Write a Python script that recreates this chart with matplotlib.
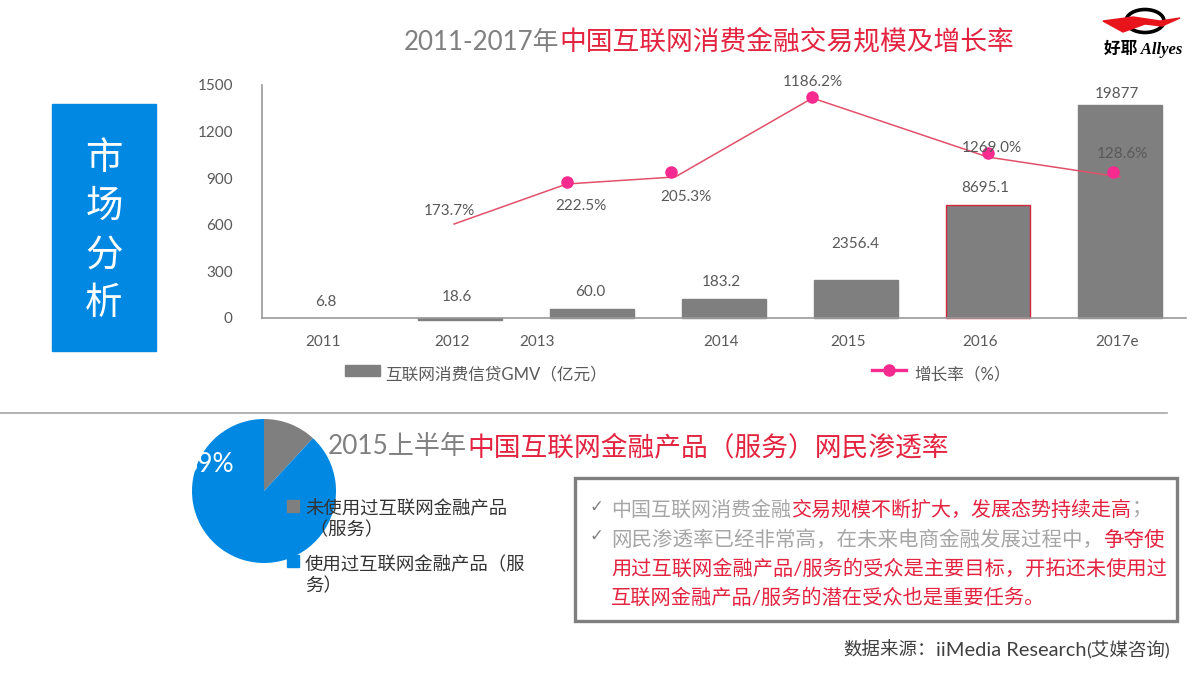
import matplotlib
matplotlib.use("Agg")
import matplotlib.pyplot as plt
from matplotlib.patches import Rectangle, Ellipse, Polygon

FONT = ['Lato', 'Noto Sans CJK SC', 'DejaVu Sans']
plt.rcParams['font.family'] = FONT

# ---- data ----
years = ['2011', '2012', '2013', '2014', '2015', '2016', '2017e']
gmv_labels = ['6.8', '18.6', '60.0', '183.2', '2356.4', '8695.1', '19877']
bar_heights = [0, -12, 58, 122, 245, 727, 1371]
y_ticks = [0, 300, 600, 900, 1200, 1500]
growth_labels = ['173.7%', '222.5%', '205.3%', '1186.2%', '1269.0%', '128.6%']
line_x = [0.955, 1.81, 2.63, 3.67, 5.0, 6.0]
line_y = [605, 863, 908, 1416, 1036, 908]
marker_x = [1.81, 2.60, 3.67, 5.0, 5.95]
marker_y = [876, 940, 1423, 1062, 940]
pie_values = [11.9, 88.1]
pie_names = ['未使用过互联网金融产品\n （服务）', '使用过互联网金融产品（服\n务）']

# ---- styles and positions ----
GRAY_T, TXT, RED = '#808080', '#595959', '#e3233f'
BAR, BLUE, PINK, LINE = '#7f7f7f', '#0088e2', '#f72b8f', '#e2506a'
tick_pos = [-0.04, 0.94, 1.58, 2.98, 3.94, 4.94, 5.98]
gmv_pos = [(326, 302), (457, 297), (590, 292), (721, 282), (855, 244), (985, 188), (1117, 94)]
growth_pos = [(449, 211), (581, 206), (686, 197), (813, 82), (992, 148), (1122, 154)]

W, H = 1200, 675
fig = plt.figure(figsize=(12, 6.75), dpi=100, facecolor='white')

def box(l, t, r, b):
    return [l / W, 1 - b / H, (r - l) / W, (b - t) / H]

# bar + line chart
ax = fig.add_axes(box(262, 85, 1186, 318))
edges = ['none', BAR, BAR, BAR, BAR, '#d2293f', BAR]
ax.bar(range(7), bar_heights, width=0.636, color=BAR, zorder=2, edgecolor=edges, linewidth=1)
ax.plot(line_x, line_y, color=LINE, lw=1.1, zorder=3)
ax.plot(marker_x, marker_y, ls='none', marker='o', ms=8, color=PINK, zorder=4)
ax.set_xlim(-0.5, 6.5)
ax.set_ylim(0, 1500)
ax.set_yticks(y_ticks)
ax.set_xticks(tick_pos, years)
ax.tick_params(axis='y', length=0, pad=21, labelsize=11, labelcolor=TXT)
ax.tick_params(axis='x', length=0, pad=12, labelsize=11, labelcolor=TXT)
for s in ('top', 'right'):
    ax.spines[s].set_visible(False)
for s in ('left', 'bottom'):
    ax.spines[s].set_color('#999999')
    ax.spines[s].set_linewidth(1.2)
for lab in ax.patches:
    lab.set_clip_on(False)

# pie chart
pa = fig.add_axes(box(192, 419, 336, 563))
pa.pie(pie_values, colors=[BAR, BLUE], startangle=90, counterclock=False, radius=1)
pa.set_xlim(-1, 1)
pa.set_ylim(-1, 1)

# overlay in pixel coordinates
ov = fig.add_axes([0, 0, 1, 1], zorder=10)
ov.set_xlim(0, W)
ov.set_ylim(H, 0)
ov.axis('off')
ov.patch.set_alpha(0)

def T(x, y, s, size=11, color=TXT, ha='center', **kw):
    return ov.text(x, y, s, fontsize=size, color=color, ha=ha, va='center', **kw)

def runs(x, y, parts, size, **kw):
    r = fig.canvas.get_renderer()
    inv = ov.transData.inverted()
    for part in parts:
        s, c = part[:2]
        sz = part[2] if len(part) > 2 else size
        t = T(x, y, s, size=sz, color=c, ha='left', **kw)
        x = inv.transform((t.get_window_extent(r).x1, 0))[0]

for s, (x, y) in zip(gmv_labels, gmv_pos):
    T(x, y, s)
for s, (x, y) in zip(growth_labels, growth_pos):
    T(x, y, s)

# titles
runs(404, 42, [('2011-2017年', GRAY_T, 18.6), ('中国互联网消费金融交易规模及增长率', RED)], 19.25)
runs(328, 447, [('2015上半年', GRAY_T, 18.8), ('中国互联网金融产品（服务）网民渗透率', RED)], 19.25)

# left tag
ov.add_patch(Rectangle((52, 104), 104, 247, color=BLUE))
for ch, y in zip('市场分析', [158, 206, 255, 303]):
    T(104, y, ch, size=27, color='white')

# chart legends
ov.add_patch(Rectangle((345, 365), 35, 11, color=BAR))
T(385, 374, '互联网消费信贷GMV（亿元）', size=12, ha='left')
ov.plot([872, 906], [370, 370], color=PINK, lw=2.4)
ov.plot([889], [370], marker='o', ms=8, color=PINK)
T(914, 374, '增长率（%）', size=12, ha='left')

# separator
ov.plot([0, 1167], [413, 413], color='#a6a6a6', lw=1.2)

# pie texts
T(234, 465, '89%', size=19, color='white', ha='right')
ov.add_patch(Rectangle((287, 500), 12, 12, color=BAR))
ov.add_patch(Rectangle((287, 555), 12, 12, color=BLUE))
T(305, 519, pie_names[0], size=13.25, color='#333333', ha='left', linespacing=1.22)
T(305, 575, pie_names[1], size=13.25, color='#333333', ha='left', linespacing=1.22)

# conclusions box
ov.add_patch(Rectangle((575, 478), 602, 143, fc='white', ec='#7f7f7f', lw=2.4))
GT = '#a6a6a6'
T(596, 507, '✓', size=12, color='#808080', family=['DejaVu Sans'])
T(596, 536, '✓', size=12, color='#808080', family=['DejaVu Sans'])
runs(611, 509, [('中国互联网消费金融', GT), ('交易规模不断扩大，发展态势持续走高', RED), ('；', GT)], 14.4)
runs(611, 539, [('网民渗透率已经非常高，在未来电商金融发展过程中，', GT), ('争夺使', RED)], 14.75)
runs(611, 568, [('用过互联网金融产品/服务的受众是主要目标，开拓还未使用过', RED)], 14.55)
runs(611, 597, [('互联网金融产品/服务的潜在受众也是重要任务。', RED)], 14.55)

# source
runs(843, 650, [('数据来源：', '#404040', 13.3), ('iiMedia Research', '#404040', 14.4),
                ('(艾媒咨询)', '#404040', 13.3)], 13.3)

# logo
ov.add_patch(Ellipse((1145, 21), 38, 23, fc='none', ec='black', lw=2.6))
ov.add_patch(Polygon([(1103, 21), (1133, 17), (1160, 21), (1180, 18), (1162, 26), (1145, 24), (1123, 32)],
                     color='#e8141c'))
T(1143, 49, '好耶 Allyes', size=12, color='black', weight='bold', style='italic',
  family=['Liberation Serif', 'Noto Sans CJK SC'])

fig.savefig('out.png', dpi=100)
